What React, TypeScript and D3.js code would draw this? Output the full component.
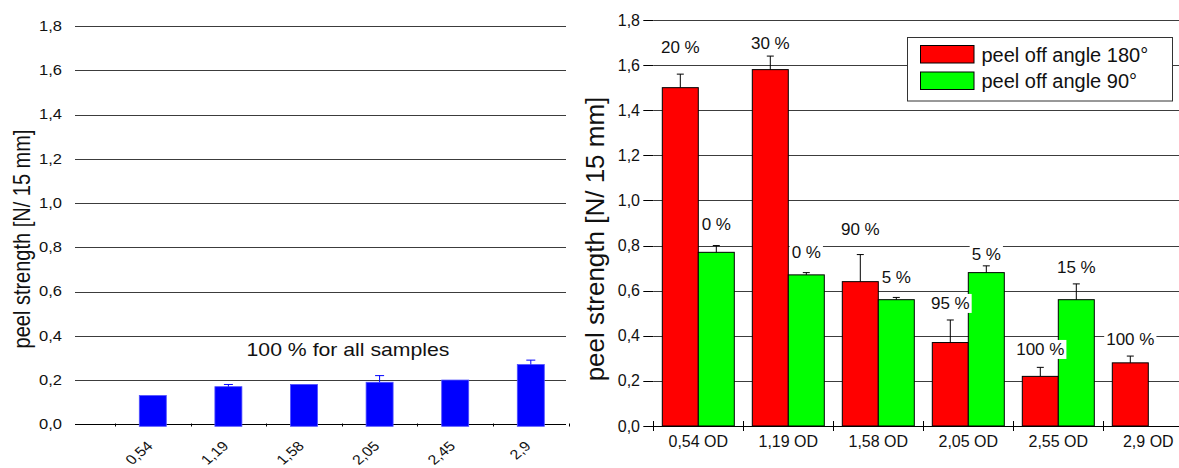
import React from "react";
import * as d3 from "d3";

// ---------- data ----------
const leftCategories = ["0,54", "1,19", "1,58", "2,05", "2,45", "2,9"];
const leftValues = [0.13, 0.17, 0.18, 0.19, 0.2, 0.27];
const leftErrors = [0, 0.01, 0, 0.03, 0, 0.02];
const leftNote = "100 % for all samples";

const rightCategories = ["0,54 OD", "1,19 OD", "1,58 OD", "2,05 OD", "2,55 OD", "2,9 OD"];
const seriesNames = ["peel off angle 180°", "peel off angle 90°"];
const angle180 = [1.5, 1.58, 0.64, 0.37, 0.22, 0.28];
const angle180Err = [0.06, 0.06, 0.12, 0.1, 0.04, 0.03];
const angle90: (number | null)[] = [0.77, 0.67, 0.56, 0.68, 0.56, null];
const angle90Err: (number | null)[] = [0.03, 0.01, 0.01, 0.03, 0.07, null];
const angle180Labels = ["20 %", "30 %", "90 %", "95 %", "100 %", "100 %"];
const angle180LabelAt = [1.655, 1.672, 0.847, 0.519, 0.315, 0.359];
const angle90Labels: (string | null)[] = ["0 %", "0 %", "5 %", "5 %", "15 %", null];
const angle90LabelAt: (number | null)[] = [0.869, 0.745, 0.634, 0.736, 0.678, null];

const yTicks = [0, 0.2, 0.4, 0.6, 0.8, 1.0, 1.2, 1.4, 1.6, 1.8];
const yTitle = "peel strength [N/ 15 mm]";

// ---------- helpers ----------
const FONT = "'Liberation Sans', Arial, Helvetica, sans-serif";
const fmt = (v: number) => v.toFixed(1).replace(".", ",");
let ctx: CanvasRenderingContext2D | null = null;
function textWidth(t: string, size: number) {
  if (!ctx) ctx = document.createElement("canvas").getContext("2d");
  if (!ctx) return t.length * size * 0.55;
  ctx.font = `${size}px 'Liberation Sans', Arial, sans-serif`;
  return ctx.measureText(t).width;
}
const crisp = (v: number) => Math.round(v) + 0.5;

export default function App() {
  const W = 1179;
  const H = 468;

  // ----- left chart (its picture is stretched horizontally) -----
  const SX = 1.18;
  const yL = d3.scaleLinear().domain([0, 1.8]).range([424.3, 26]);
  const xL = d3.scaleBand<string>().domain(leftCategories).range([115, 568.6]);
  const leftBarW = 27;
  const leftGridX0 = 75;
  const leftGridX1 = 566;

  // ----- right chart -----
  const yR = d3.scaleLinear().domain([0, 1.8]).range([426, 20]);
  const xR = d3.scaleBand<string>().domain(rightCategories).range([653.3, 1193.3]);
  const xSub = d3
    .scaleBand<string>()
    .domain(["180", "90"])
    .range([0, xR.bandwidth()])
    .paddingInner(0)
    .paddingOuter(0.25);
  const rightAxisX = 653.3;

  const labelSize = 17;

  const renderLabel = (text: string, cx: number, baseline: number, key: string) => {
    const w = textWidth(text, labelSize);
    return (
      <g key={key}>
        <rect x={cx - w / 2 - 2} y={baseline - 15} width={w + 4} height={19} fill="#fff" />
        <text x={cx} y={baseline} textAnchor="middle" fontSize={labelSize} fill="#111">
          {text}
        </text>
      </g>
    );
  };

  return (
    <svg
      width={W}
      height={H}
      style={{ position: "absolute", left: 0, top: 0, background: "#fff" }}
      fontFamily={FONT}
    >
      <rect x={0} y={0} width={W} height={H} fill="#fff" />

      {/* ================= LEFT CHART ================= */}
      <g>
        {yTicks.map((t) => (
          <g key={"lg" + t}>
            <line
              x1={leftGridX0}
              x2={leftGridX1}
              y1={crisp(yL(t))}
              y2={crisp(yL(t))}
              stroke={t === 0 ? "#000" : "#3c3c3c"}
              strokeWidth={1}
            />
            <text
              transform={`translate(62,${yL(t)}) scale(${SX},1)`}
              dy="0.35em"
              textAnchor="end"
              fontSize={14}
              fill="#111"
            >
              {fmt(t)}
            </text>
          </g>
        ))}
        {/* small category ticks */}
        {leftCategories.concat(["__end"]).map((c, i) => {
          const x = i < leftCategories.length ? (xL(c) as number) : xL.range()[1];
          return (
            <line
              key={"lt" + i}
              x1={crisp(x)}
              x2={crisp(x)}
              y1={crisp(yL(0)) - 1}
              y2={crisp(yL(0)) + 2}
              stroke="#000"
            />
          );
        })}
        {leftCategories.map((c, i) => {
          const cx = (xL(c) as number) + xL.bandwidth() / 2;
          const top = yL(leftValues[i]);
          const errTop = yL(leftValues[i] + leftErrors[i]);
          return (
            <g key={"lb" + c}>
              <rect
                x={cx - leftBarW / 2}
                y={top}
                width={leftBarW}
                height={yL(0) - top + 2}
                fill="#0000ff"
                stroke="#5050ff"
                strokeWidth={0.8}
              />
              {leftErrors[i] > 0 && (
                <g stroke="#0000ff" strokeWidth={1}>
                  <line x1={cx} x2={cx} y1={top} y2={errTop} />
                  <line x1={cx - 4.5} x2={cx + 4.5} y1={errTop} y2={errTop} />
                </g>
              )}
              <text
                transform={`translate(${cx + 1},447) scale(${SX},1) rotate(-45)`}
                textAnchor="end"
                fontSize={13.5}
                fill="#111"
              >
                {c}
              </text>
            </g>
          );
        })}
        <text
          transform={`translate(348,356) scale(${SX},1)`}
          textAnchor="middle"
          fontSize={18}
          fill="#111"
        >
          {leftNote}
        </text>
        <text
          transform={`translate(22,239) scale(${SX},1) rotate(-90)`}
          textAnchor="middle"
          dominantBaseline="central"
          fontSize={20}
          fill="#111"
        >
          {yTitle}
        </text>
      </g>

      {/* ================= RIGHT CHART ================= */}
      <g>
        {yTicks.map((t) => (
          <g key={"rg" + t}>
            {t !== 0 && (
              <line
                x1={rightAxisX}
                x2={W}
                y1={crisp(yR(t))}
                y2={crisp(yR(t))}
                stroke="#3c3c3c"
                strokeWidth={1}
              />
            )}
            <line
              x1={rightAxisX - 10}
              x2={rightAxisX}
              y1={crisp(yR(t))}
              y2={crisp(yR(t))}
              stroke="#000"
            />
            <text x={640} y={yR(t)} dy="0.35em" textAnchor="end" fontSize={16} fill="#111">
              {fmt(t)}
            </text>
          </g>
        ))}

        {/* bars */}
        {rightCategories.map((c, i) => {
          const gx = xR(c) as number;
          const bw = xSub.bandwidth();
          const out: JSX.Element[] = [];
          const rx = gx + (xSub("180") as number);
          const rTop = yR(angle180[i]);
          out.push(
            <rect
              key="r"
              x={rx}
              y={rTop}
              width={bw}
              height={yR(0) - rTop}
              fill="#ff0000"
              stroke="#000"
              strokeWidth={1}
            />
          );
          const v90 = angle90[i];
          if (v90 != null) {
            const gxx = gx + (xSub("90") as number);
            const gTop = yR(v90);
            out.push(
              <rect
                key="g"
                x={gxx}
                y={gTop}
                width={bw}
                height={yR(0) - gTop}
                fill="#00ff00"
                stroke="#000"
                strokeWidth={1}
              />
            );
          }
          return <g key={"rb" + c}>{out}</g>;
        })}

        {/* error bars */}
        {rightCategories.map((c, i) => {
          const gx = xR(c) as number;
          const bw = xSub.bandwidth();
          const els: JSX.Element[] = [];
          const rcx = gx + (xSub("180") as number) + bw / 2;
          const rTop = yR(angle180[i]);
          const rErr = yR(angle180[i] + angle180Err[i]);
          els.push(
            <g key="re" stroke="#000" strokeWidth={1}>
              <line x1={rcx} x2={rcx} y1={rTop} y2={rErr} />
              <line x1={rcx - 3.5} x2={rcx + 3.5} y1={rErr} y2={rErr} />
            </g>
          );
          const v90 = angle90[i];
          const e90 = angle90Err[i];
          if (v90 != null && e90 != null) {
            const gcx = gx + (xSub("90") as number) + bw / 2;
            const gTop = yR(v90);
            const gErr = yR(v90 + e90);
            els.push(
              <g key="ge" stroke="#000" strokeWidth={1}>
                <line x1={gcx} x2={gcx} y1={gTop} y2={gErr} />
                <line x1={gcx - 3.5} x2={gcx + 3.5} y1={gErr} y2={gErr} />
              </g>
            );
          }
          return <g key={"re" + c}>{els}</g>;
        })}

        {/* x axis */}
        <line x1={rightAxisX} x2={W} y1={crisp(yR(0))} y2={crisp(yR(0))} stroke="#000" strokeWidth={1} />
        {rightCategories.map((c) => {
          const gx = xR(c) as number;
          return (
            <g key={"rx" + c}>
              <line x1={crisp(gx)} x2={crisp(gx)} y1={yR(0) - 5} y2={yR(0) + 5} stroke="#000" />
              <text
                x={gx + xR.bandwidth() / 2}
                y={447}
                textAnchor="middle"
                fontSize={16}
                fill="#111"
              >
                {c}
              </text>
            </g>
          );
        })}

        {/* percentage labels */}
        {rightCategories.map((c, i) => {
          const gx = xR(c) as number;
          const bw = xSub.bandwidth();
          const els: JSX.Element[] = [];
          els.push(
            renderLabel(
              angle180Labels[i],
              gx + (xSub("180") as number) + bw / 2,
              yR(angle180LabelAt[i]),
              "l180"
            )
          );
          const l90 = angle90Labels[i];
          const at90 = angle90LabelAt[i];
          if (l90 != null && at90 != null) {
            els.push(renderLabel(l90, gx + (xSub("90") as number) + bw / 2, yR(at90), "l90"));
          }
          return <g key={"lab" + c}>{els}</g>;
        })}

        {/* legend */}
        <g>
          <rect x={907.5} y={37.5} width={265} height={63.5} fill="#fff" stroke="#333" strokeWidth={1} />
          {seriesNames.map((s, i) => (
            <g key={s}>
              <rect
                x={920.5}
                y={45.5 + i * 26.5}
                width={53.5}
                height={17.5}
                fill={i === 0 ? "#ff0000" : "#00ff00"}
                stroke="#000"
                strokeWidth={1}
              />
              <text x={981.5} y={62 + i * 26} fontSize={20} fill="#111">
                {s}
              </text>
            </g>
          ))}
        </g>

        <text
          transform={`translate(595,239) rotate(-90)`}
          textAnchor="middle"
          dominantBaseline="central"
          fontSize={26}
          fill="#111"
        >
          {yTitle}
        </text>
      </g>
    </svg>
  );
}
